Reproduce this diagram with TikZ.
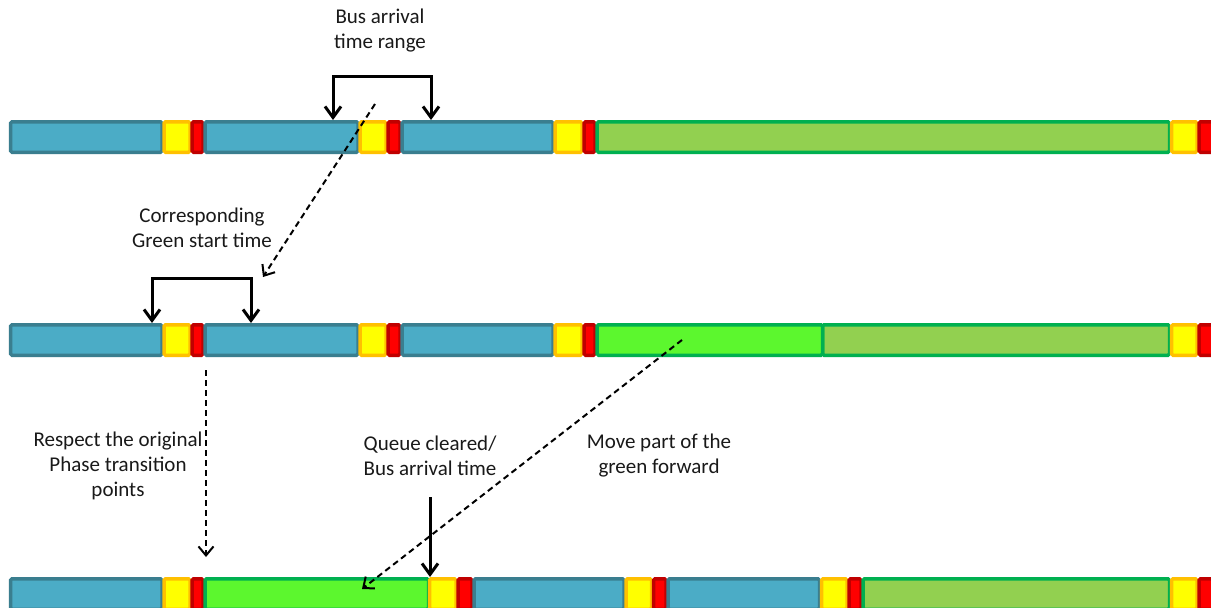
\documentclass[tikz,border=0pt]{standalone}
\usepackage{fontspec}
\setmainfont{Carlito}
\usetikzlibrary{arrows.meta}
\definecolor{bluef}{HTML}{4BACC6}
\definecolor{blued}{HTML}{3A7E8F}
\definecolor{yelf}{HTML}{FFFF00}
\definecolor{yeld}{HTML}{FFC000}
\definecolor{redf}{HTML}{FF0000}
\definecolor{redd}{HTML}{C00000}
\definecolor{lgrf}{HTML}{92D050}
\definecolor{bgrf}{HTML}{5CF72E}
\definecolor{grd}{HTML}{00B050}
\tikzset{
  segbase/.style={line width=3.5pt, rounded corners=1.5pt},
  blueseg/.style={segbase, draw=blued, fill=bluef},
  yelseg/.style={segbase, draw=yeld, fill=yelf},
  redseg/.style={segbase, draw=redd, fill=redf},
  lgrseg/.style={segbase, draw=grd, fill=lgrf},
  bgrseg/.style={segbase, draw=grd, fill=bgrf},
  lbl/.style={font=\fontsize{21}{25}\selectfont, align=center, text=black!90, inner sep=0pt},
  solidarr/.style={line width=3pt, -{Straight Barb[length=11pt,width=16pt]}},
  bracket/.style={line width=3pt, {Straight Barb[length=11pt,width=16pt]}-{Straight Barb[length=11pt,width=16pt]}},
  dasharr/.style={line width=2pt, dash pattern=on 6pt off 4pt, -{Straight Barb[length=9pt,width=15pt]}},
}
\newcommand\segm[4]{\draw[#4] (#1+1.5,#3+1.75) rectangle (#2-1.5,#3+32.25);}
\begin{document}
\begin{tikzpicture}[x=1pt,y=-1pt]
\clip (0,0) rectangle (1211,608);
\fill[white] (0,0) rectangle (1211,608);
% Row 1
\segm{9}{163.5}{120}{blueseg}
\segm{162.5}{191.5}{120}{yelseg}
\segm{190.5}{204.5}{120}{redseg}
\segm{203.5}{359.5}{120}{blueseg}
\segm{358.5}{387.5}{120}{yelseg}
\segm{386.5}{401.5}{120}{redseg}
\segm{400.5}{554.5}{120}{blueseg}
\segm{553.5}{583.5}{120}{yelseg}
\segm{582.5}{596.5}{120}{redseg}
\segm{595.5}{1171}{120}{lgrseg}
\segm{1170}{1198.5}{120}{yelseg}
\segm{1197.5}{1230}{120}{redseg}
% Row 2
\segm{9}{163.5}{323}{blueseg}
\segm{162.5}{191.5}{323}{yelseg}
\segm{190.5}{204.5}{323}{redseg}
\segm{203.5}{359.5}{323}{blueseg}
\segm{358.5}{387.5}{323}{yelseg}
\segm{386.5}{401.5}{323}{redseg}
\segm{400.5}{554.5}{323}{blueseg}
\segm{553.5}{583.5}{323}{yelseg}
\segm{582.5}{596.5}{323}{redseg}
\segm{821}{1171}{323}{lgrseg}
\segm{595.5}{824}{323}{bgrseg}
\segm{1170}{1198.5}{323}{yelseg}
\segm{1197.5}{1230}{323}{redseg}
% Row 3
\segm{9}{163.5}{577}{blueseg}
\segm{162.5}{191.5}{577}{yelseg}
\segm{190.5}{204.5}{577}{redseg}
\segm{203.5}{430}{577}{bgrseg}
\segm{428}{457.5}{577}{yelseg}
\segm{456.5}{473.5}{577}{redseg}
\segm{472.5}{625.5}{577}{blueseg}
\segm{624.5}{653}{577}{yelseg}
\segm{652}{667.5}{577}{redseg}
\segm{666.5}{821}{577}{blueseg}
\segm{820}{848.5}{577}{yelseg}
\segm{847.5}{862.5}{577}{redseg}
\segm{861.5}{1171}{577}{lgrseg}
\segm{1170}{1198.5}{577}{yelseg}
\segm{1197.5}{1230}{577}{redseg}
% labels
\node[lbl] (tBus) at (380,31) {Bus arrival\\time range};
\node[lbl] (tCorr) at (202,228) {Corresponding\\Green start time};
\node[lbl] (tResp) at (118,466) {Respect the original\\Phase transition\\points};
\node[lbl] (tQueue) at (430,456) {Queue cleared/\\Bus arrival time};
\node[lbl] (tMove) at (659,456) {Move part of the\\green forward};
% coordinates
\coordinate (b1l) at (333,120);
\coordinate (b1r) at (431,120);
\coordinate (b2l) at (152,323);
\coordinate (b2r) at (251,323);
\coordinate (d1s) at (375,104);
\coordinate (d1e) at (263,277);
\coordinate (d2s) at (206,370);
\coordinate (d2e) at (206,557);
\coordinate (d3s) at (682,340);
\coordinate (d3e) at (362,589);
\coordinate (qs) at (430,497);
\coordinate (qe) at (430,577);
% connectors
\draw[bracket] (b1l) -- ++(0,-44) -| (b1r);
\draw[bracket] (b2l) -- ++(0,-45) -| (b2r);
\draw[dasharr] (d1s) -- (d1e);
\draw[dasharr] (d2s) -- (d2e);
\draw[dasharr] (d3s) -- (d3e);
\draw[solidarr] (qs) -- (qe);
\end{tikzpicture}
\end{document}
